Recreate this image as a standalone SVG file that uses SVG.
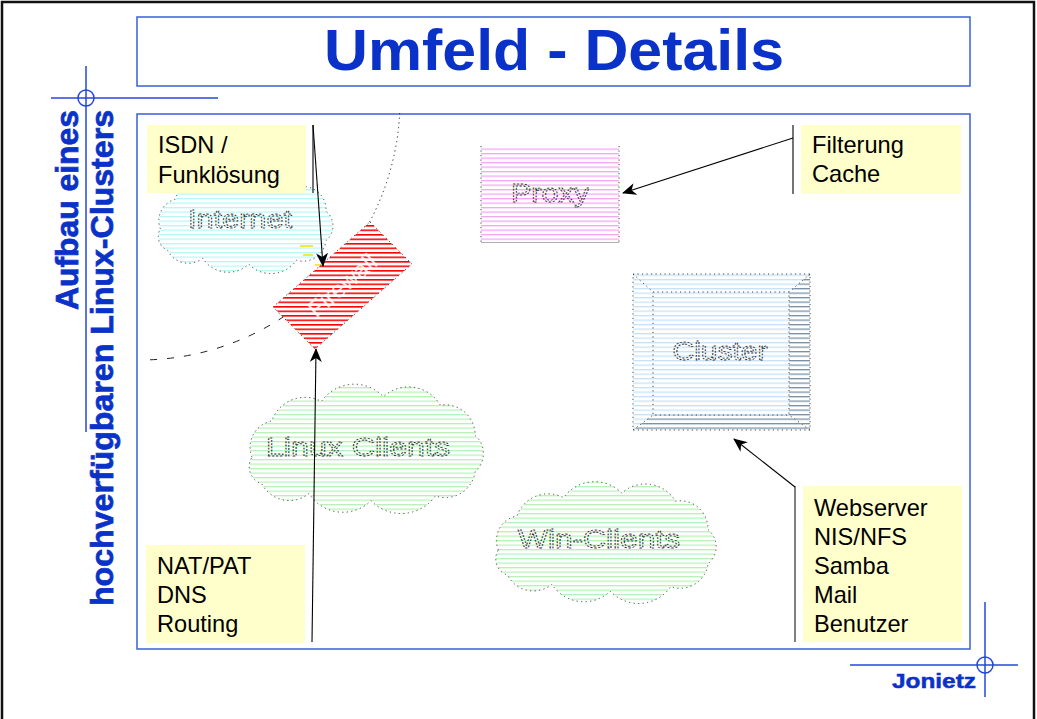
<svg xmlns="http://www.w3.org/2000/svg" width="1037" height="719" viewBox="0 0 1037 719">
  <style>
    .frame { fill: none; stroke: #3a5fd6; stroke-width: 1.5; }
    .deco { fill: none; stroke: #2448d8; stroke-width: 1.5; }
    .head { font-family: "Liberation Sans", Arial, sans-serif; font-weight: bold; fill: #0a32c8; }
    .heavy { stroke: #0a32c8; stroke-width: 0.7; }
    .note { fill: #ffffcc; }
    .notetxt { font-family: "Liberation Sans", Arial, sans-serif; font-size: 23.6px; fill: #000; }
    .dots { fill: none; stroke: #333; stroke-width: 0.9; stroke-dasharray: 1.2 3.3; }
    .lbl { font-family: "Liberation Sans", Arial, sans-serif; font-size: 26px; fill: none; stroke: #2e2e2e; stroke-width: 0.9; stroke-dasharray: 1.8 1.4; text-anchor: middle; }
    .conn { fill: none; stroke: #000; stroke-width: 1.1; }
    .bar { fill: none; stroke: #555; stroke-width: 1.5; }
  </style>
  <defs>
    <pattern id="stCyan" width="10" height="4.5" patternUnits="userSpaceOnUse">
      <rect width="10" height="1.3" fill="#b8f6f6"/>
    </pattern>
    <pattern id="stPink" width="10" height="4.5" patternUnits="userSpaceOnUse">
      <rect width="10" height="1.3" fill="#f2a6f2"/>
    </pattern>
    <pattern id="stGreen" width="10" height="4.5" patternUnits="userSpaceOnUse">
      <rect width="10" height="1.3" fill="#b6f2b6"/>
    </pattern>
    <pattern id="stRed" width="10" height="4.5" patternUnits="userSpaceOnUse">
      <rect width="10" height="1.6" fill="#ff0000"/>
    </pattern>
    <pattern id="stBlue" width="10" height="4.5" patternUnits="userSpaceOnUse">
      <rect width="10" height="1.3" fill="#c4e2fb"/>
    </pattern>
    <pattern id="stSlate" width="10" height="4.5" patternUnits="userSpaceOnUse">
      <rect width="10" height="1.3" fill="#7890a4"/>
    </pattern>
    <marker id="arr" markerUnits="userSpaceOnUse" markerWidth="14" markerHeight="12" refX="13" refY="6" orient="auto">
      <path d="M0,0 L14,6 L0,12 L4,6 Z" fill="#000"/>
    </marker>
  </defs>

  <rect width="1037" height="719" fill="#fff"/>

  <!-- page border -->
  <rect x="2" y="2" width="1032" height="760" fill="none" stroke="#111" stroke-width="2.5"/>

  <!-- title -->
  <g id="title">
    <rect class="frame" x="137" y="17" width="833" height="69" fill="#fff"/>
    <text class="head" x="554" y="70" font-size="57" text-anchor="middle" textLength="460" lengthAdjust="spacingAndGlyphs">Umfeld - Details</text>
  </g>

  <!-- side caption with crosshair -->
  <g id="caption">
    <line class="deco" x1="86" y1="66" x2="86" y2="432"/>
    <line class="deco" x1="51" y1="98" x2="218" y2="98"/>
    <circle class="deco" cx="86" cy="98" r="8"/>
    <text class="head heavy" font-size="31" text-anchor="middle" transform="translate(78,210) rotate(-90)" textLength="200" lengthAdjust="spacingAndGlyphs">Aufbau eines</text>
    <text class="head heavy" font-size="31" text-anchor="middle" transform="translate(113,358) rotate(-90)" textLength="496" lengthAdjust="spacingAndGlyphs">hochverfügbaren Linux-Clusters</text>
  </g>

  <!-- author mark with crosshair -->
  <g id="author">
    <line class="deco" x1="850" y1="665" x2="1018" y2="665"/>
    <line class="deco" x1="985" y1="602" x2="985" y2="697"/>
    <circle class="deco" cx="985" cy="665" r="8"/>
    <text class="head heavy" x="892" y="688" font-size="21" textLength="84" lengthAdjust="spacingAndGlyphs" style="stroke-width:0.5">Jonietz</text>
  </g>

  <!-- content frame -->
  <rect class="frame" x="137" y="114" width="833" height="535" fill="#fff"/>

  <!-- network boundary arc -->
  <path d="M399.7,113 A260,260 0 0 1 323.8,283.8" fill="none" stroke="#222" stroke-width="1" stroke-dasharray="1.2 3.5"/>
  <path d="M323.8,283.8 A260,260 0 0 1 147,359.9" fill="none" stroke="#222" stroke-width="1" stroke-dasharray="7 10"/>

  <g id="internet">
    <path d="M160.4,228.8 A22,22 0 0 1 175.1,199.4 A26,26 0 0 1 211.9,183.8 A30,30 0 0 1 257.9,179.8 A28,28 0 0 1 300.2,186.7 A23,23 0 0 1 326,211.2 A19,19 0 0 1 326,240.6 A23,23 0 0 1 296.5,260.2 A31,31 0 0 1 248.7,264.1 A30,30 0 0 1 202.7,258.2 A23,23 0 0 1 167.7,250.4 A15,15 0 0 1 160.4,228.8 Z" fill="url(#stCyan)"/>
    <path class="dots" d="M160.4,228.8 A22,22 0 0 1 175.1,199.4 A26,26 0 0 1 211.9,183.8 A30,30 0 0 1 257.9,179.8 A28,28 0 0 1 300.2,186.7 A23,23 0 0 1 326,211.2 A19,19 0 0 1 326,240.6 A23,23 0 0 1 296.5,260.2 A31,31 0 0 1 248.7,264.1 A30,30 0 0 1 202.7,258.2 A23,23 0 0 1 167.7,250.4 A15,15 0 0 1 160.4,228.8 Z"/>
    <text class="lbl" x="240" y="228" textLength="104" lengthAdjust="spacingAndGlyphs">Internet</text>
  </g>

  <!-- small yellow fragments beside the firewall -->
  <g id="spark" stroke="#f2e000" stroke-width="1.5">
    <line x1="300" y1="246" x2="313" y2="246"/>
    <line x1="303" y1="255" x2="313" y2="255"/>
    <line x1="315" y1="265" x2="323" y2="265"/>
  </g>

  <g id="proxy">
    <rect x="481" y="146" width="138" height="96" fill="url(#stPink)"/>
    <line class="dots" x1="481" y1="146" x2="481" y2="242"/>
    <line class="dots" x1="619" y1="146" x2="619" y2="242"/>
    <line x1="481" y1="242.5" x2="619" y2="242.5" stroke="#b0b0b0" stroke-width="1"/>
    <text class="lbl" x="550" y="202" textLength="78" lengthAdjust="spacingAndGlyphs">Proxy</text>
  </g>

  <g id="cluster">
    <rect x="633" y="274" width="177" height="156" fill="url(#stBlue)"/>
    <polygon points="810,274 810,430 789,415 789,292" fill="#fff"/>
    <polygon points="810,274 810,430 789,415 789,292" fill="url(#stSlate)"/>
    <polygon points="633,430 810,430 789,415 653,415" fill="#fff"/>
    <polygon points="633,430 810,430 789,415 653,415" fill="url(#stSlate)"/>
    <rect class="dots" x="633" y="274" width="177" height="156"/>
    <rect class="dots" x="653" y="292" width="136" height="123"/>
    <path class="dots" d="M633,274 L653,292 M810,274 L789,292 M633,430 L653,415 M810,430 L789,415"/>
    <text class="lbl" x="720" y="360" textLength="95" lengthAdjust="spacingAndGlyphs">Cluster</text>
  </g>

  <g id="linux-clients">
    <path d="M251.9,457.2 A27,27 0 0 1 271.8,420.9 A35,35 0 0 1 321.4,401.5 A40,40 0 0 1 383.4,396.7 A37,37 0 0 1 440.4,405.2 A30,30 0 0 1 475.1,435.4 A24,24 0 0 1 475.1,471.7 A30,30 0 0 1 435.4,495.9 A42,42 0 0 1 371,500.7 A40,40 0 0 1 309,493.5 A31,31 0 0 1 261.8,483.8 A18,18 0 0 1 251.9,457.2 Z" fill="url(#stGreen)"/>
    <path class="dots" d="M251.9,457.2 A27,27 0 0 1 271.8,420.9 A35,35 0 0 1 321.4,401.5 A40,40 0 0 1 383.4,396.7 A37,37 0 0 1 440.4,405.2 A30,30 0 0 1 475.1,435.4 A24,24 0 0 1 475.1,471.7 A30,30 0 0 1 435.4,495.9 A42,42 0 0 1 371,500.7 A40,40 0 0 1 309,493.5 A31,31 0 0 1 261.8,483.8 A18,18 0 0 1 251.9,457.2 Z"/>
    <text class="lbl" x="358" y="456" textLength="184" lengthAdjust="spacingAndGlyphs">Linux Clients</text>
  </g>

  <g id="win-clients">
    <path d="M498.3,550.1 A25,25 0 0 1 517,515.9 A33,33 0 0 1 563.6,497.7 A38,38 0 0 1 621.8,493.1 A35,35 0 0 1 675.4,501.1 A28,28 0 0 1 708,529.6 A22,22 0 0 1 708,563.8 A28,28 0 0 1 670.7,586.6 A39,39 0 0 1 610.2,591.2 A38,38 0 0 1 551.9,584.3 A29,29 0 0 1 507.6,575.2 A17,17 0 0 1 498.3,550.1 Z" fill="url(#stGreen)"/>
    <path class="dots" d="M498.3,550.1 A25,25 0 0 1 517,515.9 A33,33 0 0 1 563.6,497.7 A38,38 0 0 1 621.8,493.1 A35,35 0 0 1 675.4,501.1 A28,28 0 0 1 708,529.6 A22,22 0 0 1 708,563.8 A28,28 0 0 1 670.7,586.6 A39,39 0 0 1 610.2,591.2 A38,38 0 0 1 551.9,584.3 A29,29 0 0 1 507.6,575.2 A17,17 0 0 1 498.3,550.1 Z"/>
    <text class="lbl" x="599" y="548" textLength="162" lengthAdjust="spacingAndGlyphs">Win-Clients</text>
  </g>

  <g id="firewall">
    <polygon points="370,222 412,264 315,349 273,307" fill="#fff"/>
    <polygon points="370,222 412,264 315,349 273,307" fill="url(#stRed)"/>
    <polygon class="dots" points="370,222 412,264 315,349 273,307"/>
    <text x="0" y="8" transform="translate(342.5,285.5) rotate(-41)" font-family="Liberation Sans, Arial, sans-serif" font-size="24" fill="#fff" fill-opacity="0.85" text-anchor="middle">Firewall</text>
  </g>

  <!-- annotation notes -->
  <g id="note-isdn">
    <rect class="note" x="147" y="125" width="159" height="68"/>
    <text class="notetxt" x="158" y="153">ISDN /</text>
    <text class="notetxt" x="158" y="183">Funklösung</text>
  </g>
  <g id="note-nat">
    <rect class="note" x="146" y="545" width="159" height="98"/>
    <text class="notetxt" x="157" y="574">NAT/PAT</text>
    <text class="notetxt" x="157" y="603">DNS</text>
    <text class="notetxt" x="157" y="632">Routing</text>
  </g>
  <g id="note-proxy">
    <rect class="note" x="801" y="125" width="160" height="69"/>
    <text class="notetxt" x="812" y="153">Filterung</text>
    <text class="notetxt" x="812" y="182">Cache</text>
  </g>
  <g id="note-cluster">
    <rect class="note" x="803" y="486" width="159" height="156"/>
    <text class="notetxt" x="814" y="516">Webserver</text>
    <text class="notetxt" x="814" y="545">NIS/NFS</text>
    <text class="notetxt" x="814" y="574">Samba</text>
    <text class="notetxt" x="814" y="603">Mail</text>
    <text class="notetxt" x="814" y="632">Benutzer</text>
  </g>

  <g id="connectors">
    <line class="conn" x1="313" y1="125" x2="313" y2="193"/>
    <line class="conn" x1="313" y1="125" x2="323" y2="266" marker-end="url(#arr)"/>
    <line class="conn" x1="312" y1="642" x2="316" y2="349" stroke="#222" marker-end="url(#arr)"/>
    <line class="conn" x1="793" y1="125" x2="793" y2="194"/>
    <line class="conn" x1="793" y1="138" x2="623" y2="193" marker-end="url(#arr)"/>
    <line class="bar" x1="795" y1="486" x2="795" y2="642"/>
    <line class="conn" x1="795" y1="487" x2="734" y2="439" marker-end="url(#arr)"/>
  </g>
</svg>
